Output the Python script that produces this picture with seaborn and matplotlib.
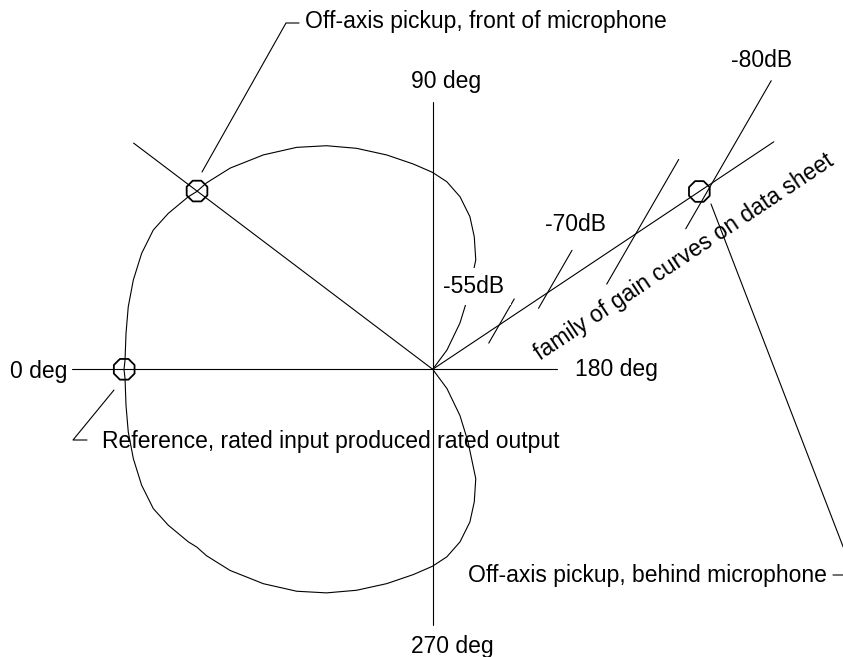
import numpy as np
import pandas as pd
import matplotlib
matplotlib.use("Agg")
import matplotlib.pyplot as plt
import seaborn as sns

# angles are counted from the 0 deg reference (left) towards 90 deg (up)
# radii are in drawing units
pattern_deg = [0, 1.7, 6.7, 11.6, 16.6, 21.7, 26.5, 30.5, 35.2, 37.0, 39.5, 44.8,
               51.7, 58.5, 64.6, 71.0, 77.9, 84.6, 89.9, 94.3, 99.0, 103.7, 107.4,
               111.5, 116.0, 120.5, 126.5, 130.0]
pattern_r = [308.7, 307.8, 308.8, 310.8, 312.4, 313.3, 312.2, 307.0, 299.2, 295.4,
             293.1, 285.5, 273.2, 260.3, 247.5, 233.7, 219.2, 206.2, 197.0, 188.1,
             174.7, 157.1, 139.0, 117.5, 80.5, 53.7, 24.0, 0.0]

axis_deg = [0, 90, 180, 270]
axis_len = [361, 267, 124, 256]
axis_labels = ['0 deg', '90 deg', '180 deg', '270 deg']

front_deg = 37.1        # off-axis ray in front of the mic
front_len = 375
front_mark_r = 295.5
ref_mark_r = 308.5

gain_deg = 146.3        # direction of the gain-curve ray
gain_len = 410
behind_mark_r = 320.5
tick_deg = 120          # the short gain curves cross the ray at this angle
tick_pos = [80, 138, 244, 336]
tick_below = [21, 18, 58, 53]
tick_above = [30, 49, 86, 118]
tick_labels = ['-55dB', '-70dB', '', '-80dB']


def pol(r, deg):
    t = np.deg2rad(deg)
    return -np.asarray(r) * np.cos(t), np.asarray(r) * np.sin(t)


sns.set_style("white")
plt.rcParams['font.family'] = ['Liberation Sans', 'DejaVu Sans']
plt.rcParams['text.color'] = 'black'
FS = 16.5
LW = 0.8
TXT = dict(fontsize=FS, color='black', va='baseline')

fig = plt.figure(figsize=(8.43, 6.57), dpi=100)
ax = fig.add_axes([0, 0, 1, 1])
ax.set_xlim(-432.7, 410.3)
ax.set_ylim(-287.7, 369.3)
ax.axis('off')

# axes of the polar diagram
for d, L in zip(axis_deg, axis_len):
    x, y = pol([0, L], d)
    ax.plot(x, y, color='black', lw=LW)

# pickup pattern, upper half then mirrored lower half
ux, uy = pol(pattern_r, pattern_deg)
curve = pd.DataFrame({
    'x': np.concatenate([ux[::-1], ux[1:]]),
    'y': np.concatenate([uy[::-1], -uy[1:]]),
})
sns.lineplot(data=curve, x='x', y='y', sort=False, estimator=None,
             color='black', lw=LW, solid_joinstyle='round', ax=ax)
ax.set_xlabel('')
ax.set_ylabel('')

# off-axis ray in front
x, y = pol([0, front_len], front_deg)
ax.plot(x, y, color='black', lw=LW)

# gain-curve ray and its ticks
x, y = pol([0, gain_len], gain_deg)
ax.plot(x, y, color='black', lw=LW)
for p, lo, hi in zip(tick_pos, tick_below, tick_above):
    cx, cy = pol(p, gain_deg)
    dx, dy = pol(1, tick_deg)
    ax.plot([cx - lo * dx, cx + hi * dx], [cy - lo * dy, cy + hi * dy],
            color='black', lw=LW)

# marker circles
mx, my = zip(pol(ref_mark_r, 0), pol(front_mark_r, front_deg), pol(behind_mark_r, gain_deg))
ax.scatter(mx, my, marker='8', s=260, facecolors='none', edgecolors='black',
           linewidths=1.3, zorder=4)

# axis labels
ax.text(-365.7, -8.7, axis_labels[0], ha='right', **TXT)
ax.text(-21.7, 281, axis_labels[1], ha='left', **TXT)
ax.text(142.3, -6.7, axis_labels[2], ha='left', **TXT)
ax.text(-21.7, -283.7, axis_labels[3], ha='left', **TXT)

# dB labels
ax.text(10.3, 76.3, tick_labels[0], ha='left',
        bbox=dict(boxstyle='square,pad=0.3', fc='white', ec='none'), **TXT)
ax.text(112.3, 138.3, tick_labels[1], ha='left', **TXT)
ax.text(298.3, 302.3, tick_labels[3], ha='left', **TXT)

# label along the gain-curve ray
ang = 180 - gain_deg
ux_, uy_ = np.cos(np.deg2rad(ang)), np.sin(np.deg2rad(ang))
tx = 272 * ux_ + 46 * uy_
ty = 272 * uy_ - 46 * ux_
ax.text(tx, ty, 'family of gain curves on data sheet', rotation=ang,
        rotation_mode='anchor', ha='center', va='center', fontsize=FS, color='black')

# leader lines and callouts
ax.plot([-230.7, -146.7, -133.7], [197.3, 346.3, 346.3], color='black', lw=LW)
ax.text(-127.7, 341.3, 'Off-axis pickup, front of microphone', ha='left', **TXT)

ax.plot([-318.7, -359.7, -345.7], [-20.7, -70.7, -70.7], color='black', lw=LW)
ax.text(-330.7, -78.7, 'Reference, rated input produced rated output', ha='left', **TXT)

ax.plot([278.3, 421.3, 400.3], [165.3, -205.7, -205.7], color='black', lw=LW)
ax.text(394.3, -212.7, 'Off-axis pickup, behind microphone', ha='right', **TXT)

fig.savefig('out.png', dpi=100)
